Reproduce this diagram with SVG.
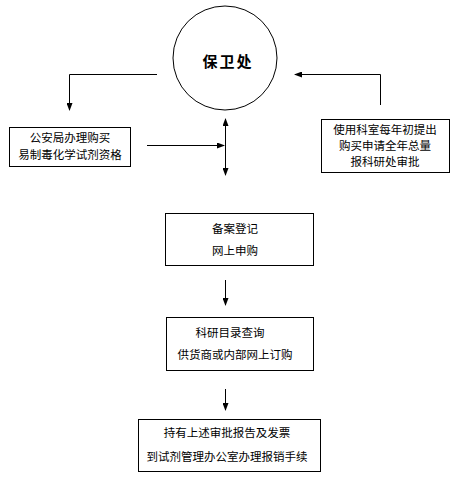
<svg xmlns="http://www.w3.org/2000/svg" width="469" height="485" viewBox="0 0 469 485">
<defs>
<marker id="ah" markerWidth="8" markerHeight="6" refX="7" refY="3" orient="auto" markerUnits="userSpaceOnUse">
<path d="M0,0 L8,3 L0,6 Z" fill="#000"/>
</marker>
<style>
.box{fill:#fff;stroke:#000;stroke-width:1}
.t{font-family:"Liberation Sans","Noto Sans CJK SC",sans-serif;font-size:11.5px;fill:#000;text-anchor:middle}
.ln{fill:none;stroke:#000;stroke-width:1}
</style>
</defs>
<rect width="469" height="485" fill="#fff"/>
<g id="baoweichu">
<circle cx="225" cy="58" r="52" fill="#fff" stroke="#000" stroke-width="1"/>
<text x="228" y="67" style="font-family:'Liberation Serif','Noto Sans CJK SC',serif;font-size:15px;font-weight:bold;letter-spacing:2px;text-anchor:middle">保卫处</text>
</g>
<g id="gongan">
<rect class="box" x="9.5" y="127.5" width="121" height="39"/>
<text class="t" x="70" y="142">公安局办理购买</text>
<text class="t" x="70" y="159">易制毒化学试剂资格</text>
</g>
<g id="shiyong">
<rect class="box" x="321.5" y="119.5" width="128" height="53"/>
<text class="t" x="385" y="134">使用科室每年初提出</text>
<text class="t" x="385" y="150">购买申请全年总量</text>
<text class="t" x="385" y="166">报科研处审批</text>
</g>
<g id="beian">
<rect class="box" x="165.5" y="213.5" width="148" height="52"/>
<text class="t" x="235" y="233">备案登记</text>
<text class="t" x="235" y="255">网上申购</text>
</g>
<g id="keyan">
<rect class="box" x="166.5" y="317.5" width="147" height="53"/>
<text class="t" x="230" y="337">科研目录查询</text>
<text class="t" x="235" y="359">供货商或内部网上订购</text>
</g>
<g id="chiyou">
<rect class="box" x="138.5" y="419.5" width="182" height="52"/>
<text class="t" x="227" y="437">持有上述审批报告及发票</text>
<text class="t" x="227" y="461">到试剂管理办公室办理报销手续</text>
</g>
<g id="connectors">
<polyline class="ln" points="157,74.5 69.5,74.5 69.5,110" marker-end="url(#ah)"/>
<polyline class="ln" points="380.5,105 380.5,74.5 295,74.5" marker-end="url(#ah)"/>
<line class="ln" x1="147" y1="145.5" x2="224" y2="145.5" marker-end="url(#ah)"/>
<line class="ln" x1="225.5" y1="146" x2="225.5" y2="119" marker-end="url(#ah)"/>
<line class="ln" x1="225.5" y1="145" x2="225.5" y2="175" marker-end="url(#ah)"/>
<line class="ln" x1="225.5" y1="280" x2="225.5" y2="305" marker-end="url(#ah)"/>
<line class="ln" x1="225.5" y1="389" x2="225.5" y2="410" marker-end="url(#ah)"/>
</g>
</svg>
